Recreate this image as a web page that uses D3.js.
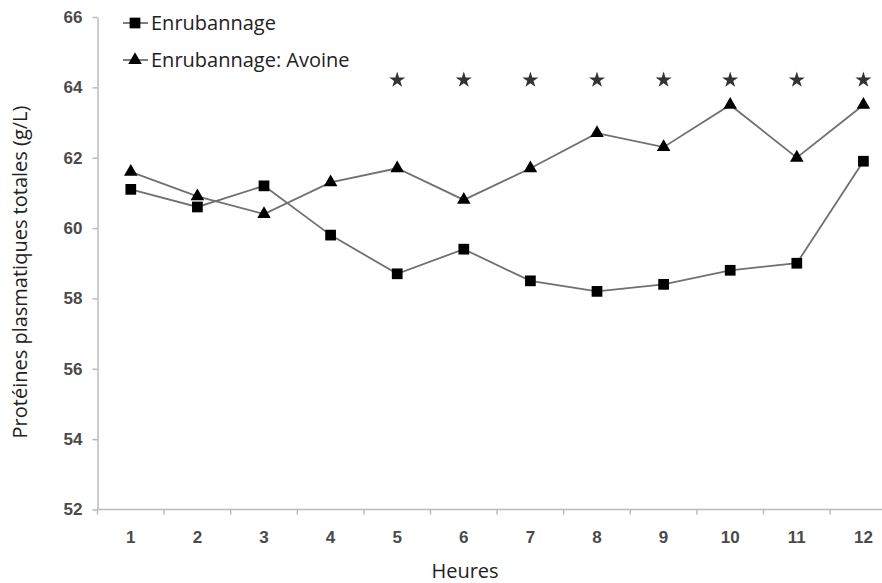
<!DOCTYPE html>
<html><head><meta charset="utf-8">
<script src="https://cdn.jsdelivr.net/npm/d3@7"></script>
<style>
html,body{margin:0;padding:0;background:#fff;}
svg{display:block;}
</style></head>
<body>
<svg id="chart" width="882" height="583"></svg>
<script>
const hours = [1,2,3,4,5,6,7,8,9,10,11,12];
const enrubannage = [61.1,60.6,61.2,59.8,58.7,59.4,58.5,58.2,58.4,58.8,59.0,61.9];
const avoine = [61.6,60.9,60.4,61.3,61.7,60.8,61.7,62.7,62.3,63.5,62.0,63.5];
const significant = [5,6,7,8,9,10,11,12];
const yTicks = [52,54,56,58,60,62,64,66];
const seriesNames = ["Enrubannage","Enrubannage: Avoine"];
const yTitle = "Protéines plasmatiques totales  (g/L)";
const xTitle = "Heures";

const svg = d3.select("#chart");
const x = d3.scaleBand().domain(hours).range([97.5, 896.7]).padding(0);
const y = d3.scaleLinear().domain([52,66]).range([509.5,17]);

const axisColor = "#bbb";
const lineColor = "#707070";
const tickFont = "'Liberation Sans', Arial, sans-serif";
const textFont = "'Open Sans', 'Noto Sans', sans-serif";

// Y axis
const yAxis = svg.append("g").attr("transform","translate(97.5,0)")
  .call(d3.axisLeft(y).tickValues(yTicks).tickSize(5).tickSizeOuter(0).tickPadding(10));
yAxis.select(".domain").attr("stroke",axisColor).attr("stroke-width",1.5);
yAxis.selectAll(".tick line").attr("stroke",axisColor).attr("stroke-width",1.5);
yAxis.selectAll(".tick text").attr("font-family",tickFont).attr("font-size",17)
  .attr("font-weight","bold").attr("fill","#4a4a4a");

// X axis
const xg = svg.append("g").attr("transform",`translate(0,${y(52)})`);
xg.append("line").attr("x1",x(1)).attr("x2",882).attr("y1",0).attr("y2",0)
  .attr("stroke",axisColor).attr("stroke-width",1.5);
xg.selectAll("line.tk").data(hours).enter().append("line").attr("class","tk")
  .attr("x1",d=>x(d)).attr("x2",d=>x(d)).attr("y1",0).attr("y2",5)
  .attr("stroke",axisColor).attr("stroke-width",1.5);
xg.selectAll("text").data(hours).enter().append("text")
  .attr("x",d=>x(d)+x.bandwidth()/2).attr("y",33)
  .attr("text-anchor","middle").attr("font-family",tickFont).attr("font-size",17)
  .attr("font-weight","bold").attr("fill","#4a4a4a").text(d=>d);

// Titles
svg.append("text").attr("x",465).attr("y",578).attr("text-anchor","middle")
  .attr("font-family",textFont).attr("font-size",20).attr("fill","#222").text(xTitle);
svg.append("text").attr("transform","translate(27,272) rotate(-90)").attr("text-anchor","middle")
  .attr("font-family",textFont).attr("font-size",20).attr("fill","#222").text(yTitle);

const cx = d => x(d) + x.bandwidth()/2;
const line = d3.line().x((d,i)=>cx(hours[i])).y(d=>y(d));

svg.append("path").datum(enrubannage).attr("d",line).attr("fill","none")
  .attr("stroke",lineColor).attr("stroke-width",1.8);
svg.append("path").datum(avoine).attr("d",line).attr("fill","none")
  .attr("stroke",lineColor).attr("stroke-width",1.8);

const sq = d3.symbol().type(d3.symbolSquare).size(115);
const tri = d3.symbol().type(d3.symbolTriangle).size(80);
const star = d3.symbol().type(d3.symbolStar).size(80);

svg.selectAll("path.sq").data(enrubannage).enter().append("path").attr("class","sq")
  .attr("d",sq).attr("transform",(d,i)=>`translate(${cx(hours[i])},${y(d)})`).attr("fill","#000");
svg.selectAll("path.tri").data(avoine).enter().append("path").attr("class","tri")
  .attr("d",tri).attr("transform",(d,i)=>`translate(${cx(hours[i])},${y(d)})`).attr("fill","#000");

// Significance stars
svg.selectAll("path.star").data(significant).enter().append("path").attr("class","star")
  .attr("d",star).attr("transform",d=>`translate(${cx(d)},80)`).attr("fill","#333");

// Legend
const legend = svg.append("g");
const legY = [23, 60];
seriesNames.forEach((name,i)=>{
  const g = legend.append("g").attr("transform",`translate(0,${legY[i]})`);
  g.append("line").attr("x1",123).attr("x2",148).attr("y1",0).attr("y2",0)
    .attr("stroke",lineColor).attr("stroke-width",1.8);
  g.append("path").attr("d", i===0 ? sq() : tri()).attr("transform","translate(135,0)").attr("fill","#000");
  g.append("text").attr("x",151).attr("y",7).attr("font-family",textFont)
    .attr("font-size",20).attr("fill","#222").text(name);
});
</script>
</body></html>
